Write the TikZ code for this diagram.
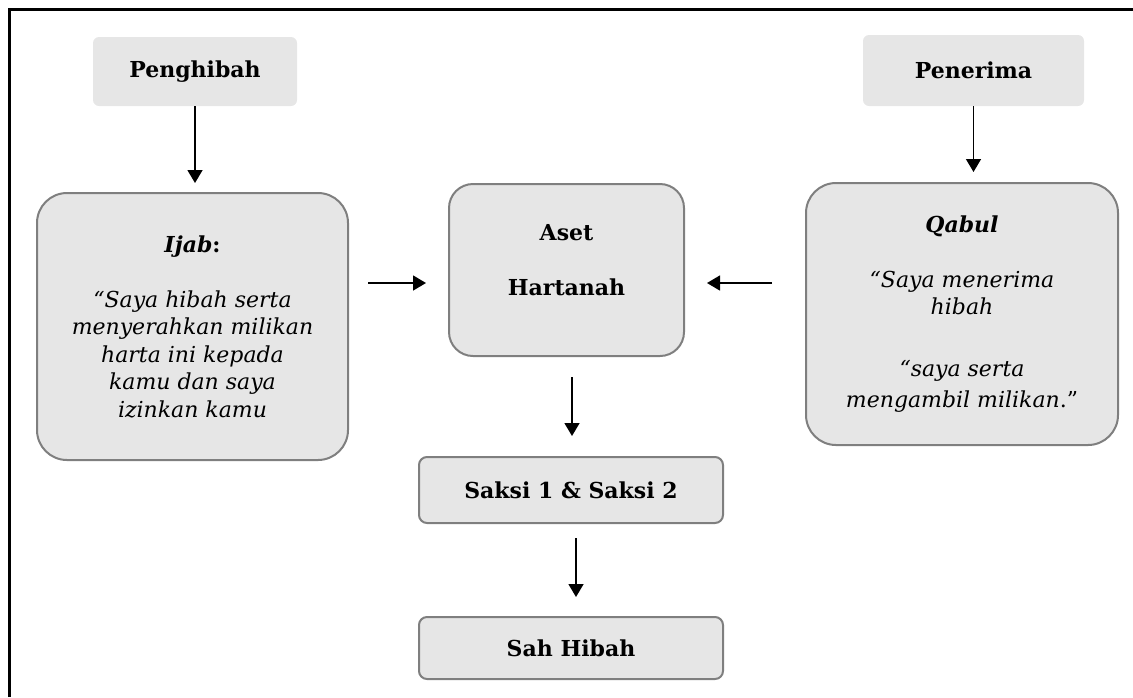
\documentclass[tikz,border=0pt]{standalone}
\usepackage{fontspec}
\setmainfont{DejaVu Serif}
\usepackage{tikz}
\usetikzlibrary{arrows.meta, positioning}

\begin{document}
\begin{tikzpicture}[x=0.5pt, y=-0.5pt,
  font=\fontsize{11}{13.75}\selectfont,
  >={Triangle[length=6.5pt, width=7.5pt]},
  actor/.style={rectangle, fill=boxgray, rounded corners=3pt, align=center, font=\fontsize{11}{13.75}\selectfont\bfseries},
  card/.style={rectangle, draw=edgegray, line width=1pt, fill=boxgray, align=center},
  arr/.style={->, line width=0.75pt}]
  \definecolor{boxgray}{HTML}{E6E6E6}
  \definecolor{edgegray}{HTML}{7F7F7F}

  \useasboundingbox (0,0) rectangle (1133,697);
  % frame (only top and left edge show)
  \draw[line width=1.5pt] (9,697) -- (9,9) -- (1133,9);

  % Define positions
  \node (giver) [actor, minimum width=102pt, minimum height=34.5pt] at (195,71.5) {Penghibah};
  \node (taker) [actor, minimum width=110.5pt, minimum height=35.5pt] at (973.5,70.5) {Penerima};

  \node (ijab) [card, rounded corners=15pt, minimum width=155.5pt, minimum height=133.5pt] at (192.5,326.5)
    {\textbf{\textit{Ijab}:}\\[13.75pt]
     \textit{“Saya hibah serta}\\
     \textit{menyerahkan milikan}\\
     \textit{harta ini kepada}\\
     \textit{kamu dan saya}\\
     \textit{izinkan kamu}};

  \node (aset) [card, rounded corners=12pt, minimum width=117.5pt, minimum height=86pt] at (566.5,270)
    {\textbf{Aset}\\[13.75pt]\textbf{Hartanah}\\[-3.75pt]\mbox{}};

  \node (qabul) [card, rounded corners=15pt, minimum width=156pt, minimum height=131pt] at (962,314)
    {\textbf{\textit{Qabul}}\\[13.75pt]
     \textit{“Saya menerima}\\
     \textit{hibah}\\[17pt]
     \textit{“saya serta}\\[2pt]
     \textit{mengambil milikan}.”};

  \node (saksi) [card, rounded corners=4pt, minimum width=152pt, minimum height=33pt] at (571,490)
    {\textbf{Saksi 1 \& Saksi 2}};
  \node (sah) [card, rounded corners=4pt, minimum width=152pt, minimum height=31pt] at (571,648)
    {\textbf{Sah Hibah}};

  \coordinate (mid) at (566.5,283);

  % Arrows
  \draw[arr, shorten >=4.5pt] (giver.south) -- (ijab.north -| giver.south);
  \draw[arr, shorten >=5pt] (taker.south) -- (qabul.north -| taker.south);
  \draw[arr, shorten <=9.5pt, shorten >=11pt] (ijab.east |- mid) -- (aset.west |- mid);
  \draw[arr, shorten <=16.5pt, shorten >=11pt] (qabul.west |- mid) -- (aset.east |- mid);
  \draw[arr, shorten <=10pt, shorten >=10pt] ([xshift=2.75pt]aset.south) -- ([xshift=0.5pt]saksi.north);
  \draw[arr, shorten <=7pt, shorten >=9.5pt] ([xshift=2.5pt]saksi.south) -- ([xshift=2.5pt]sah.north);
\end{tikzpicture}
\end{document}
